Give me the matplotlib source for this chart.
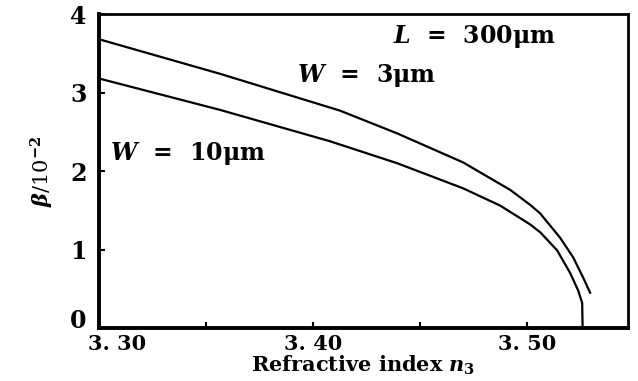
import matplotlib
matplotlib.use("Agg")
import matplotlib.pyplot as plt
from matplotlib.transforms import ScaledTranslation

# curve values (n3, beta in 1e-2)
n_w3 = [3.300, 3.3565, 3.4126, 3.4393, 3.4701, 3.4921, 3.5014, 3.5061,
        3.5154, 3.5215, 3.5262, 3.5294]
beta_w3 = [3.68, 3.24, 2.77, 2.48, 2.11, 1.76, 1.57, 1.46,
           1.15, 0.90, 0.64, 0.45]

n_w10 = [3.300, 3.3565, 3.4079, 3.4393, 3.4701, 3.4874, 3.5014, 3.5061, 3.5140,
         3.5201, 3.5238, 3.5257, 3.5259]
beta_w10 = [3.18, 2.78, 2.38, 2.10, 1.78, 1.56, 1.32, 1.22, 0.99,
            0.70, 0.48, 0.32, 0.0]

x_ticks = [3.30, 3.40, 3.50]
x_labels = ["3. 30", "3. 40", "3. 50"]
x_minor = [3.35, 3.45]
y_ticks = [0, 1, 2, 3, 4]

plt.rcParams["mathtext.fontset"] = "custom"
plt.rcParams["mathtext.it"] = "DejaVu Serif:italic:bold"
plt.rcParams["mathtext.rm"] = "DejaVu Serif:bold"

fig = plt.figure(figsize=(6.38, 3.81), dpi=100)
ax = fig.add_axes([0.155, 0.139, 0.829, 0.824])

ax.plot(n_w3, beta_w3, color="black", lw=1.6)
ax.plot(n_w10, beta_w10, color="black", lw=1.6)

ax.set_xlim(3.30, 3.547)
ax.set_ylim(0, 4.0)

ax.set_xticks(x_ticks)
ax.set_xticklabels(x_labels)
ax.set_xticks(x_minor, minor=True)
ax.set_yticks(y_ticks)

for lab in ax.get_xticklabels():
    lab.set_fontfamily("DejaVu Serif")
    lab.set_fontweight("bold")
    lab.set_fontsize(15)
for lab in ax.get_yticklabels():
    lab.set_fontfamily("DejaVu Serif")
    lab.set_fontweight("bold")
    lab.set_fontsize(17)

ax.tick_params(which="both", direction="in", length=4, width=1.5)
ax.tick_params(axis="x", pad=4)
ax.tick_params(axis="y", pad=9)
for s in ax.spines.values():
    s.set_linewidth(2.0)
ax.spines["left"].set_linewidth(2.8)
ax.spines["bottom"].set_linewidth(2.8)

# first x label sits right of the corner, "0" sits above the x axis
xl = ax.get_xticklabels()[0]
xl.set_transform(xl.get_transform() + ScaledTranslation(0.18, 0, fig.dpi_scale_trans))
yl = ax.get_yticklabels()[0]
yl.set_transform(yl.get_transform() + ScaledTranslation(0, 0.10, fig.dpi_scale_trans))

font = dict(family="DejaVu Serif", weight="bold", size=17)
ax.set_xlabel(r"Refractive index $n_3$",
              fontdict=dict(family="DejaVu Serif", weight="bold", size=15), labelpad=0)
ax.set_ylabel(r"$\beta$/10$^{-2}$", fontdict=dict(family="DejaVu Serif", size=15), labelpad=10)

ax.text(0.556, 0.93, r"$L$  =  300μm", transform=ax.transAxes, va="center", **font)
ax.text(0.374, 0.803, r"$W$  =  3μm", transform=ax.transAxes, va="center", **font)
ax.text(0.021, 0.557, r"$W$  =  10μm", transform=ax.transAxes, va="center", **font)

fig.savefig("out.png", dpi=100)
